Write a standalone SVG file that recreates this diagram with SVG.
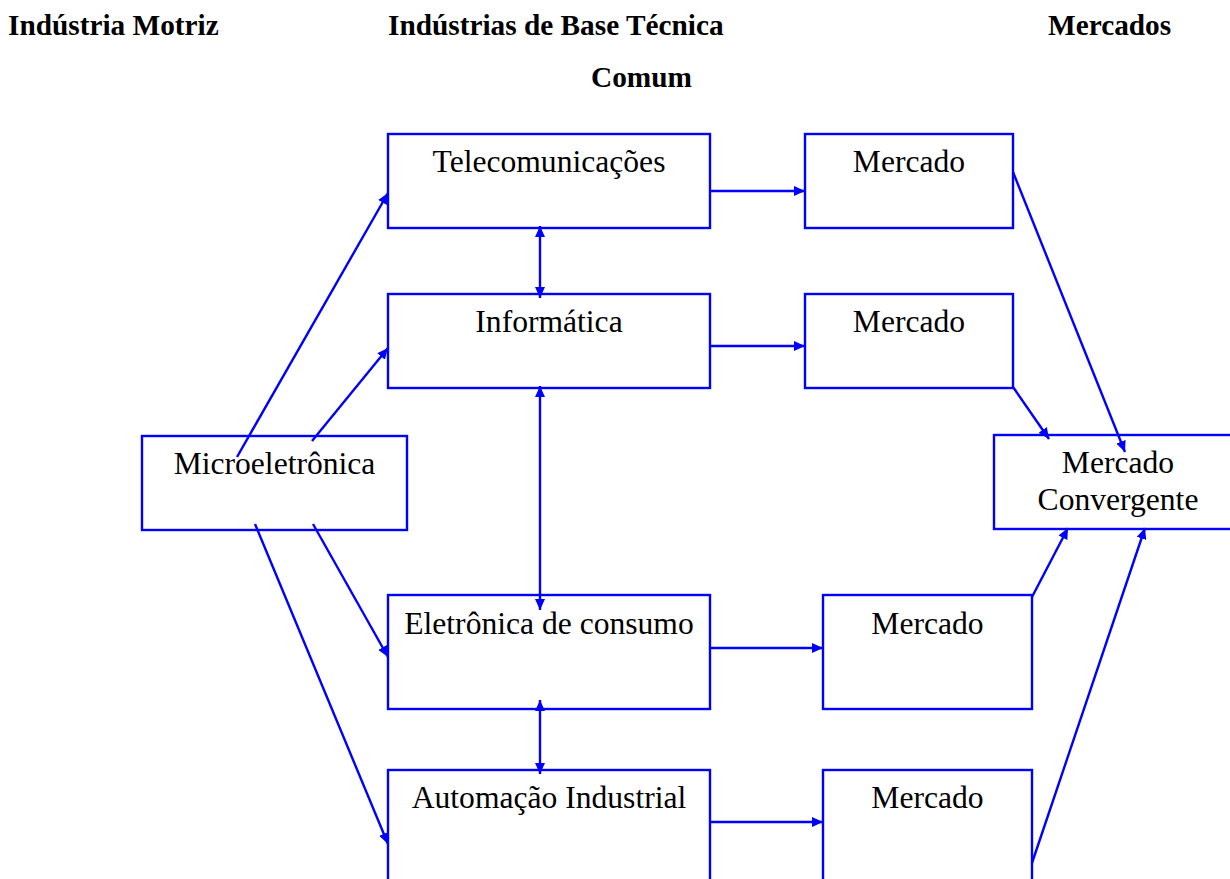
<svg xmlns="http://www.w3.org/2000/svg" width="1230" height="879" viewBox="0 0 1230 879">
<style>
.box{fill:#fff;stroke:#0000ff;stroke-width:2.4}
.ln{fill:none;stroke:#0000ff;stroke-width:2.4}
.t{font-family:"Liberation Serif","Times New Roman",serif;font-size:31.6px;fill:#000;text-anchor:middle}
.h{font-family:"Liberation Serif","Times New Roman",serif;font-size:29.3px;font-weight:bold;fill:#000}
</style>
<defs>
<marker id="ah" viewBox="0 0 11 10" refX="11" refY="5" markerWidth="11" markerHeight="10" markerUnits="userSpaceOnUse" orient="auto-start-reverse">
<path d="M0,0 L11,5 L0,10 z" fill="#0000ff"/>
</marker>
</defs>
<rect width="1230" height="879" fill="#fff"/>
<g id="headers">
<text class="h" x="8" y="35">Indústria Motriz</text>
<text class="h" x="388" y="35">Indústrias de Base Técnica</text>
<text class="h" x="591" y="87">Comum</text>
<text class="h" x="1048" y="35">Mercados</text>
</g>
<g id="telecom"><rect class="box" x="388" y="134" width="322" height="94"/><text class="t" x="549" y="172">Telecomunicações</text></g>
<g id="informatica"><rect class="box" x="388" y="294" width="322" height="94"/><text class="t" x="549" y="332">Informática</text></g>
<g id="eletronica"><rect class="box" x="388" y="595" width="322" height="114"/><text class="t" x="549" y="634">Eletrônica de consumo</text></g>
<g id="automacao"><rect class="box" x="388" y="770" width="322" height="130"/><text class="t" x="549" y="808">Automação Industrial</text></g>
<g id="micro"><rect class="box" x="142" y="436" width="265" height="94"/><text class="t" x="274.5" y="474">Microeletrônica</text></g>
<g id="mercado1"><rect class="box" x="805" y="134" width="208" height="94"/><text class="t" x="909" y="172">Mercado</text></g>
<g id="mercado2"><rect class="box" x="805" y="294" width="208" height="94"/><text class="t" x="909" y="332">Mercado</text></g>
<g id="mercado3"><rect class="box" x="823" y="595" width="209" height="114"/><text class="t" x="927.5" y="634">Mercado</text></g>
<g id="mercado4"><rect class="box" x="823" y="770" width="209" height="130"/><text class="t" x="927.5" y="808">Mercado</text></g>
<g id="convergente"><rect class="box" x="994" y="435" width="248" height="94"/><text class="t" x="1118" y="473">Mercado</text><text class="t" x="1118" y="510">Convergente</text></g>
<g id="connectors">
<line class="ln" x1="710" y1="191" x2="805" y2="191" marker-end="url(#ah)"/>
<line class="ln" x1="710" y1="346" x2="805" y2="346" marker-end="url(#ah)"/>
<line class="ln" x1="710" y1="648" x2="823" y2="648" marker-end="url(#ah)"/>
<line class="ln" x1="710" y1="822" x2="823" y2="822" marker-end="url(#ah)"/>
<line class="ln" x1="540" y1="226" x2="540" y2="298" marker-start="url(#ah)" marker-end="url(#ah)"/>
<line class="ln" x1="540" y1="386" x2="540" y2="610" marker-start="url(#ah)" marker-end="url(#ah)"/>
<line class="ln" x1="540" y1="700" x2="540" y2="774" marker-start="url(#ah)" marker-end="url(#ah)"/>
<line class="ln" x1="237" y1="457" x2="388" y2="193" marker-end="url(#ah)"/>
<line class="ln" x1="312" y1="441" x2="388" y2="348" marker-end="url(#ah)"/>
<line class="ln" x1="313" y1="524" x2="388" y2="657" marker-end="url(#ah)"/>
<line class="ln" x1="255" y1="524" x2="388" y2="844" marker-end="url(#ah)"/>
<line class="ln" x1="1013" y1="172" x2="1125" y2="452" marker-end="url(#ah)"/>
<line class="ln" x1="1013" y1="387" x2="1049" y2="439" marker-end="url(#ah)"/>
<line class="ln" x1="1032" y1="597" x2="1068" y2="528" marker-end="url(#ah)"/>
<line class="ln" x1="1032" y1="863" x2="1145" y2="528" marker-end="url(#ah)"/>
</g>
</svg>
